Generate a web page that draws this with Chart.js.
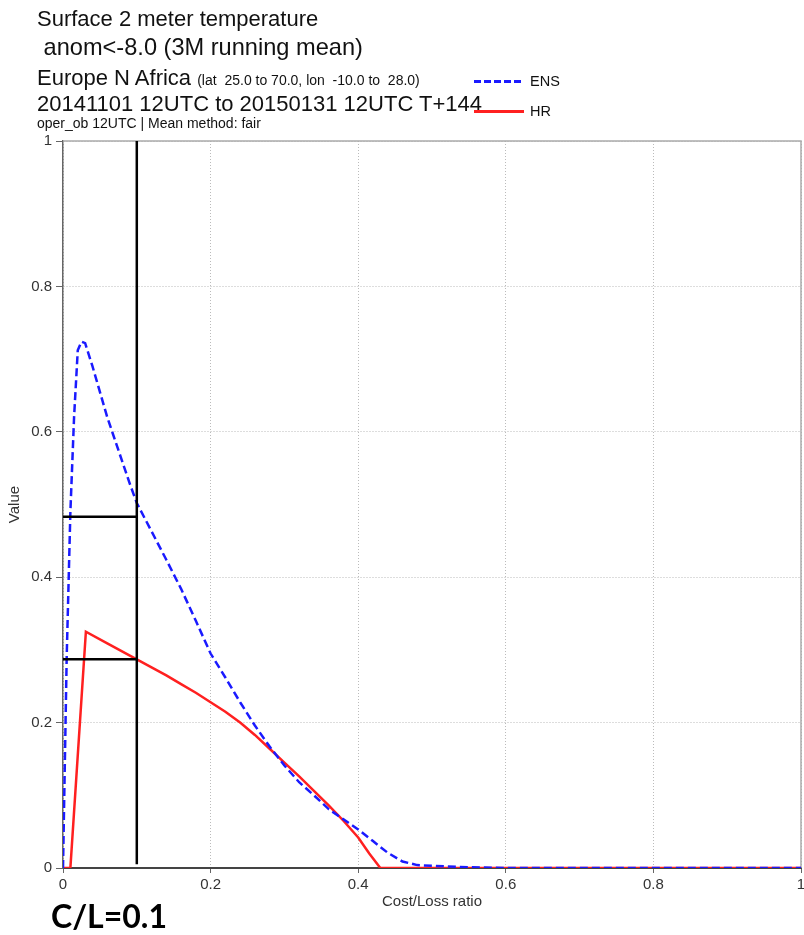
<!DOCTYPE html>
<html lang="en">
<head>
  <meta charset="UTF-8">
  <title>Surface 2 meter temperature - Cost/Loss value</title>
  <script src="https://cdn.jsdelivr.net/npm/chart.js"></script>
  <style>
    body {
      margin: 0;
      padding: 0;
      background: #fff;
      font-family: 'Liberation Sans', Arial, sans-serif;
    }
    .wrap {
      position: relative;
      width: 804px;
      height: 935px;
    }
    canvas {
      position: absolute;
      left: 0;
      top: 0;
    }
    .t {
      position: absolute;
      white-space: pre;
      line-height: 1;
      color: #111;
    }
    .key {
      position: absolute;
      left: 474px;
      width: 50px;
      height: 2.5px;
    }
    .cl {
      position: absolute;
      left: 51px;
      top: 900px;
      font-family: Lato, 'Open Sans', sans-serif;
      font-weight: bold;
      font-size: 32px;
      line-height: 1;
      color: #000;
    }
  </style>
</head>
<body>
  <div class="wrap">
    <canvas id="valueChart" width="804" height="935"></canvas>
    <div class="t" style="left:37px; top:8px; font-size:22px;">Surface 2 meter temperature</div>
    <div class="t" style="left:37px; top:36px; font-size:23.6px;"> anom&lt;-8.0 (3M running mean)</div>
    <div class="t" style="left:37px; top:67px; font-size:22px;">Europe N Africa <span style="font-size:14px;">(lat  25.0 to 70.0, lon  -10.0 to  28.0)</span></div>
    <div class="t" style="left:37px; top:93px; font-size:22px;">20141101 12UTC to 20150131 12UTC T+144</div>
    <div class="t" style="left:37px; top:116px; font-size:14px;">oper_ob 12UTC | Mean method: fair</div>

    <div class="key" style="top:80px; background: repeating-linear-gradient(90deg, #1a1aff 0 7px, transparent 7px 10px);"></div>
    <div class="t" style="left:530px; top:74px; font-size:14.5px;">ENS</div>
    <div class="key" style="top:110px; background:#ff2020;"></div>
    <div class="t" style="left:530px; top:104px; font-size:14.5px;">HR</div>

    <div class="cl">C/L=0.1</div>
  </div>

  <script>
    // cost/loss ratio vs value
    const ensCost  = [0, 0.005, 0.01, 0.015, 0.02, 0.025, 0.03, 0.04, 0.05, 0.06, 0.07, 0.08, 0.09, 0.1,
                      0.12, 0.14, 0.16, 0.18, 0.2, 0.22, 0.24, 0.26, 0.28, 0.3, 0.32, 0.34, 0.36, 0.38,
                      0.4, 0.42, 0.44, 0.46, 0.48, 0.5, 0.55, 0.6, 0.7, 0.8, 0.9, 1];
    const ensValue = [0, 0.29, 0.49, 0.62, 0.712, 0.724, 0.722, 0.69, 0.655, 0.62, 0.59, 0.56, 0.53, 0.502,
                      0.463, 0.424, 0.384, 0.34, 0.295, 0.262, 0.228, 0.196, 0.167, 0.141, 0.118, 0.1, 0.081, 0.067,
                      0.053, 0.037, 0.021, 0.009, 0.004, 0.003, 0.001, 0, 0, 0, 0, 0];

    const hrCost  = [0, 0.01, 0.031, 0.06, 0.1, 0.12, 0.14, 0.16, 0.18, 0.2, 0.22, 0.24, 0.26, 0.28, 0.3,
                     0.32, 0.34, 0.36, 0.38, 0.4, 0.415, 0.43, 0.5, 0.6, 0.7, 0.8, 0.9, 1];
    const hrValue = [0, 0, 0.325, 0.309, 0.287, 0.276, 0.265, 0.253, 0.241, 0.228, 0.215, 0.2, 0.183, 0.164, 0.145,
                     0.126, 0.106, 0.086, 0.065, 0.042, 0.02, 0, 0, 0, 0, 0, 0, 0];

    // C/L = 0.1 marker lines
    const clRatio = 0.1;
    const clLineBottom = 0.005;
    const ensAtCL = 0.483;
    const hrAtCL = 0.287;

    const axisTicks = [0, 0.2, 0.4, 0.6, 0.8, 1];

    Chart.defaults.font.family = "'Liberation Sans', Arial, sans-serif";
    Chart.defaults.color = '#333';

    function toPoints(xs, ys) {
      return xs.map((x, i) => ({ x: x, y: ys[i] }));
    }

    function tickText(v) {
      return String(+v.toFixed(1));
    }

    // light frame on top and right of the plot
    const frame = {
      id: 'frame',
      beforeDatasetsDraw(chart) {
        const { ctx, chartArea: a } = chart;
        ctx.save();
        ctx.strokeStyle = '#aaa';
        ctx.lineWidth = 1.5;
        ctx.beginPath();
        ctx.moveTo(a.left, a.top);
        ctx.lineTo(a.right, a.top);
        ctx.lineTo(a.right, a.bottom);
        ctx.stroke();
        ctx.restore();
      }
    };

    const blackLine = {
      borderColor: '#000',
      borderWidth: 2.5,
      pointRadius: 0,
      fill: false,
      clip: false
    };

    new Chart(document.getElementById('valueChart'), {
      type: 'line',
      data: {
        datasets: [
          Object.assign({ label: 'cl', data: [{ x: clRatio, y: clLineBottom }, { x: clRatio, y: 1 }] }, blackLine),
          Object.assign({ label: 'ensCL', data: [{ x: 0, y: ensAtCL }, { x: clRatio, y: ensAtCL }] }, blackLine),
          Object.assign({ label: 'hrCL', data: [{ x: 0, y: hrAtCL }, { x: clRatio, y: hrAtCL }] }, blackLine),
          {
            label: 'ENS',
            data: toPoints(ensCost, ensValue),
            borderColor: '#1a1aff',
            borderWidth: 2.5,
            borderDash: [8, 4],
            pointRadius: 0,
            tension: 0
          },
          {
            label: 'HR',
            data: toPoints(hrCost, hrValue),
            borderColor: '#ff2020',
            borderWidth: 2.5,
            pointRadius: 0,
            tension: 0
          }
        ]
      },
      options: {
        responsive: false,
        animation: false,
        layout: { padding: { top: 141, right: 3, bottom: 17, left: 0 } },
        plugins: {
          legend: { display: false },
          tooltip: { enabled: false }
        },
        scales: {
          x: {
            type: 'linear',
            min: 0,
            max: 1,
            afterBuildTicks: s => { s.ticks = axisTicks.map(v => ({ value: v })); },
            afterFit: s => { s.height = 50; s.paddingLeft = 0; s.paddingRight = 0; },
            ticks: { font: { size: 15 }, padding: 3, maxRotation: 0, callback: tickText },
            grid: { color: '#bbb', tickColor: '#666', tickLength: 5 },
            border: { color: '#444', width: 2, dash: [1, 2] },
            title: { display: true, text: 'Cost/Loss ratio', font: { size: 15 }, padding: { top: 0, bottom: 7 } }
          },
          y: {
            min: 0,
            max: 1,
            afterBuildTicks: s => { s.ticks = axisTicks.map(v => ({ value: v })); },
            afterFit: s => { s.width = 63; },
            ticks: { font: { size: 15 }, padding: 4, callback: tickText },
            grid: { color: '#bbb', tickColor: '#666', tickLength: 7 },
            border: { color: '#666', width: 1.5, dash: [1, 2] },
            title: { display: true, text: 'Value', font: { size: 15 }, padding: { top: 6, bottom: 0 } }
          }
        }
      },
      plugins: [frame]
    });
  </script>
</body>
</html>
